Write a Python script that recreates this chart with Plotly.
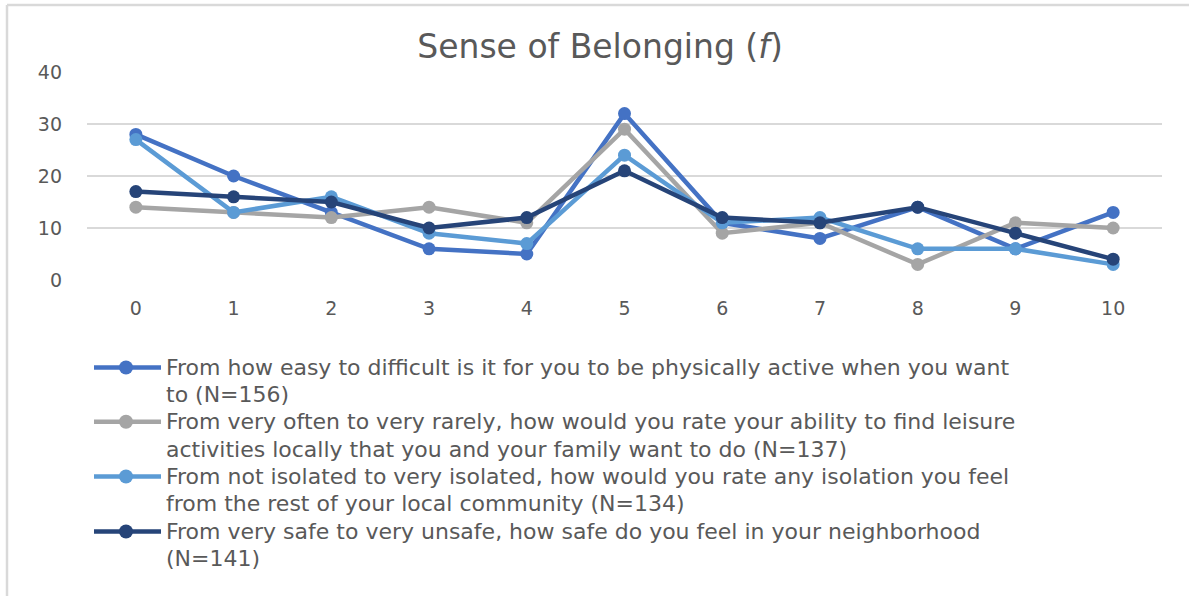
import plotly.graph_objects as go

# Scale points 0-10 and response frequencies for each question
scale = [0, 1, 2, 3, 4, 5, 6, 7, 8, 9, 10]
physically_active = [28, 20, 13, 6, 5, 32, 11, 8, 14, 6, 13]
leisure_activities = [14, 13, 12, 14, 11, 29, 9, 11, 3, 11, 10]
isolation = [27, 13, 16, 9, 7, 24, 11, 12, 6, 6, 3]
neighborhood_safety = [17, 16, 15, 10, 12, 21, 12, 11, 14, 9, 4]

series_names = [
    "From how easy to difficult is it for you to be physically active when you want<br>to (N=156)",
    "From very often to very rarely, how would you rate your ability to find leisure<br>activities locally that you and your family want to do (N=137)",
    "From not isolated to very isolated, how would you rate any isolation you feel<br>from the rest of your local community (N=134)",
    "From very safe to very unsafe, how safe do you feel in your neighborhood<br>(N=141)",
]
series_values = [physically_active, leisure_activities, isolation, neighborhood_safety]
colors = ["#4472C4", "#A5A5A5", "#5B9BD5", "#264478"]

FONT = "DejaVu Sans"
TEXT = "#595959"
W, H = 1189, 596
L, R, T, B = 87, 27, 72, 316
PW, PH = W - L - R, H - T - B


def px_x(px):
    return (px - L) / PW


def px_y(py):
    return (H - B - py) / PH


fig = go.Figure()
for name, vals, col in zip(series_names, series_values, colors):
    fig.add_trace(go.Scatter(
        x=scale, y=vals, name=name.replace("<br>", " "), mode="lines+markers",
        line=dict(color=col, width=4.5),
        marker=dict(color=col, size=13),
        showlegend=False,
    ))

shapes = []
annotations = []

# Chart frame (top and left edges)
shapes.append(dict(type="line", xref="paper", yref="paper",
                   x0=px_x(7), x1=px_x(W + 5), y0=px_y(5), y1=px_y(5),
                   line=dict(color="#D9D9D9", width=2.5)))
shapes.append(dict(type="line", xref="paper", yref="paper",
                   x0=px_x(7), x1=px_x(7), y0=px_y(5), y1=px_y(H + 5),
                   line=dict(color="#D9D9D9", width=2.5)))

# Legend below the plot
row_y = [367.5, 421.8, 476.5, 531.5]
line_gap = 27.3
for name, col, ry in zip(series_names, colors, row_y):
    shapes.append(dict(type="line", xref="paper", yref="paper",
                       x0=px_x(94), x1=px_x(161), y0=px_y(ry), y1=px_y(ry),
                       line=dict(color=col, width=4.5)))
    r = 7
    shapes.append(dict(type="circle", xref="paper", yref="paper",
                       x0=px_x(126 - r), x1=px_x(126 + r),
                       y0=px_y(ry + r), y1=px_y(ry - r),
                       fillcolor=col, line=dict(width=0)))
    for k, part in enumerate(name.split("<br>")):
        annotations.append(dict(
            xref="paper", yref="paper", x=px_x(164), y=px_y(ry + k * line_gap),
            xanchor="left", yanchor="middle", text=part, showarrow=False,
            font=dict(family=FONT, size=22, color=TEXT),
        ))

fig.update_layout(
    width=W, height=H,
    margin=dict(l=L, r=R, t=T, b=B, pad=0),
    paper_bgcolor="white", plot_bgcolor="white",
    title=dict(text="Sense of Belonging (<i>f</i>)", x=600 / W, xanchor="center",
               y=1 - 46 / H, yanchor="middle",
               font=dict(family=FONT, size=33, color=TEXT)),
    xaxis=dict(range=[-0.5, 10.5], tickvals=scale, showgrid=False, zeroline=False,
               showline=False, ticks="", ticklabelstandoff=15,
               tickfont=dict(family=FONT, size=19, color=TEXT)),
    yaxis=dict(range=[0, 40], tickvals=[0, 10, 20, 30, 40], showgrid=True,
               gridcolor="#D9D9D9", gridwidth=1.5, zeroline=False, showline=False,
               ticks="", ticklabelstandoff=24,
               tickfont=dict(family=FONT, size=19, color=TEXT)),
    shapes=shapes, annotations=annotations,
    showlegend=False,
)

fig.write_html("out.html")
